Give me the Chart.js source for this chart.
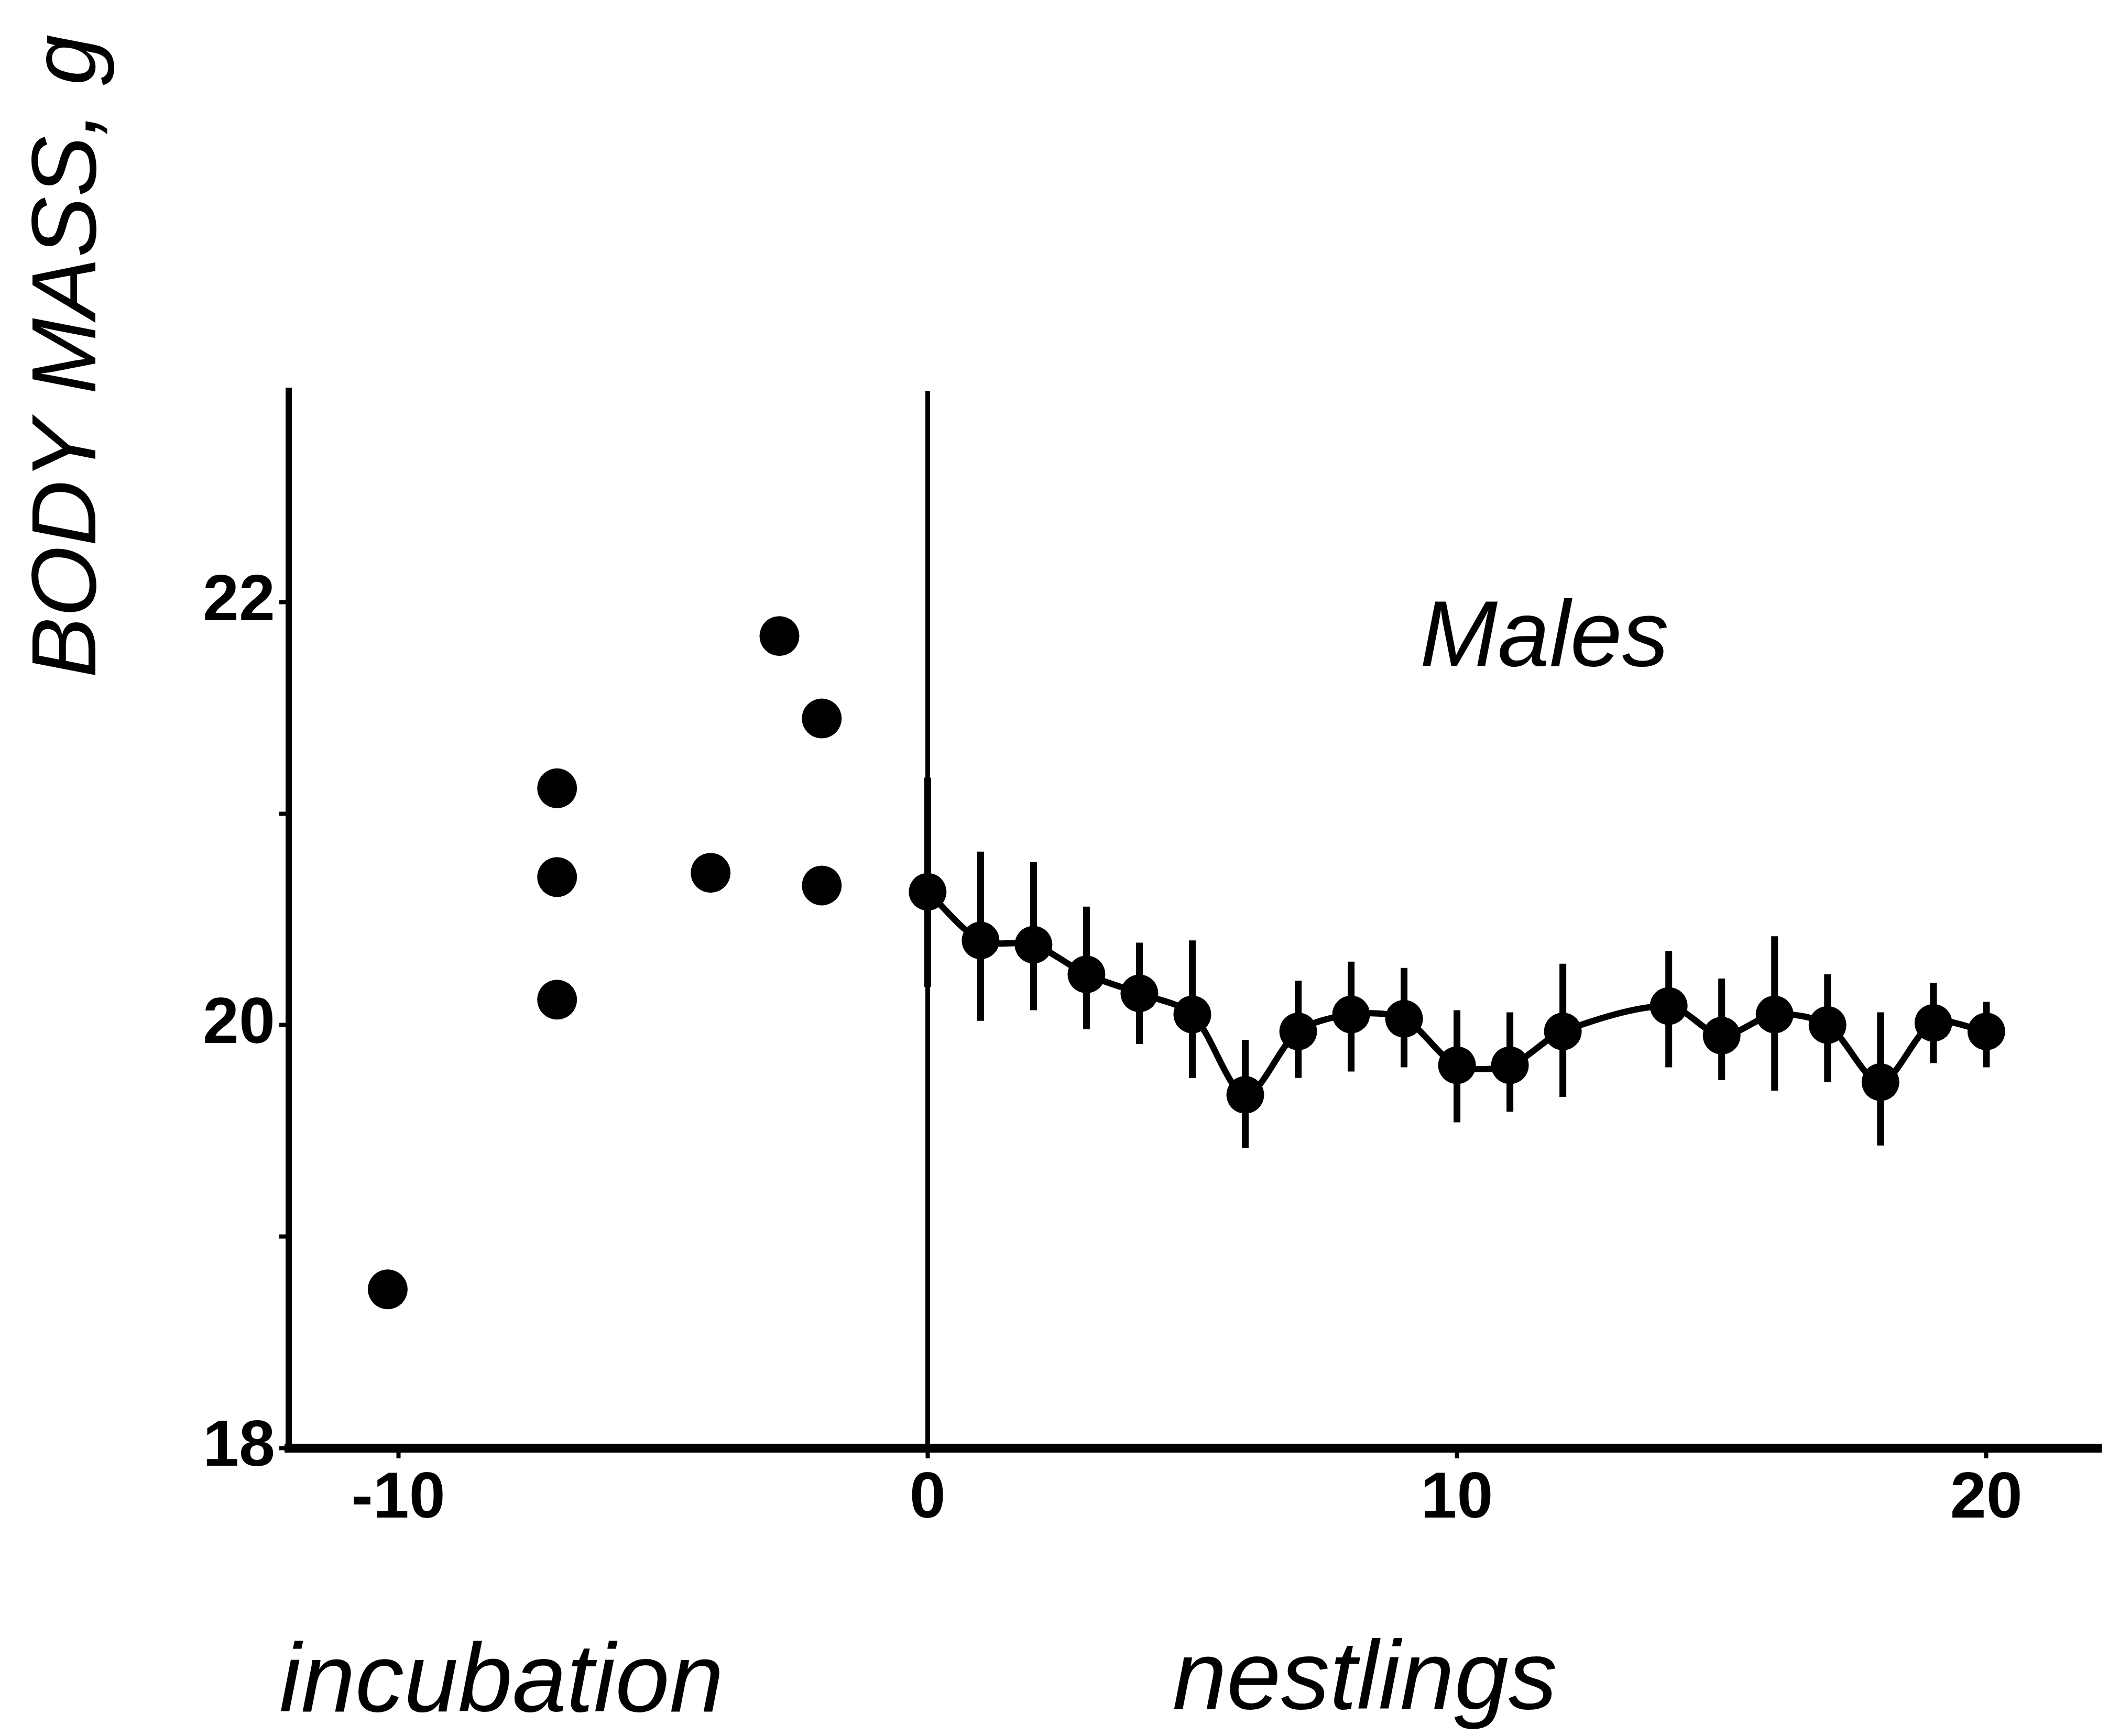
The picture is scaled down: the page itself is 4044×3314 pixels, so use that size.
<!DOCTYPE html>
<html lang="en">
<head>
    <meta charset="UTF-8">
    <script src="https://cdn.jsdelivr.net/npm/chart.js"></script>
    <title>Body mass - Males</title>
    <style>
        body { margin: 0; background: #fff; }
        #wrap { width: 4044px; height: 3314px; position: relative; }
    </style>
</head>
<body>
<div id="wrap"><canvas id="myChart"></canvas></div>
<script>
// tick values
var xTicks = [-10, 0, 10, 20];
var yTicks = [18, 19, 20, 21, 22];
var yLabelled = [18, 20, 22];

// incubation period, single birds
var incubDays = [-10.2, -7, -7, -7, -4.1, -2.8, -2, -2];
var incubMass = [18.75, 21.12, 20.70, 20.12, 20.72, 21.84, 21.45, 20.66];

// nestling period, mean with error bar ends
var nestDays = [0, 1, 2, 3, 4, 5, 6, 7, 8, 9, 10, 11, 12, 14, 15, 16, 17, 18, 19, 20];
var nestMass = [20.63, 20.40, 20.38, 20.24, 20.15, 20.05, 19.67, 19.97, 20.05, 20.03,
                19.81, 19.81, 19.97, 20.09, 19.95, 20.05, 20.00, 19.73, 20.01, 19.97];
var errHigh  = [21.17, 20.82, 20.77, 20.56, 20.39, 20.40, 19.93, 20.21, 20.30, 20.27,
                20.07, 20.06, 20.29, 20.35, 20.22, 20.42, 20.24, 20.06, 20.20, 20.11];
var errLow   = [20.18, 20.02, 20.07, 19.98, 19.91, 19.75, 19.42, 19.75, 19.78, 19.80,
                19.54, 19.59, 19.66, 19.80, 19.74, 19.69, 19.73, 19.43, 19.82, 19.80];

var tickFont = { family: "'Liberation Sans Narrow', 'Liberation Sans', Arial, sans-serif", weight: 'bold', size: 124 };
var textFamily = "'Liberation Sans', Arial, sans-serif";

function pts(xs, ys) {
    return xs.map(function (v, i) { return { x: v, y: ys[i] }; });
}

var extras = {
    id: 'extras',
    beforeDatasetsDraw: function (chart) {
        var ctx = chart.ctx, x = chart.scales.x, y = chart.scales.y;
        ctx.save();
        ctx.strokeStyle = '#000';
        ctx.lineWidth = 13;
        for (var i = 0; i < nestDays.length; i++) {
            var px = x.getPixelForValue(nestDays[i]);
            ctx.beginPath();
            ctx.moveTo(px, y.getPixelForValue(errHigh[i]));
            ctx.lineTo(px, y.getPixelForValue(errLow[i]));
            ctx.stroke();
        }
        ctx.restore();
    },
    afterDraw: function (chart) {
        var ctx = chart.ctx, x = chart.scales.x, y = chart.scales.y;
        var bottom = chart.chartArea.bottom;
        ctx.save();
        ctx.fillStyle = '#000';
        ctx.textAlign = 'center';
        ctx.textBaseline = 'alphabetic';
        ctx.font = 'italic 178px ' + textFamily;
        ctx.fillText('Males', x.getPixelForValue(11.65), y.getPixelForValue(21.70));
        ctx.font = 'italic 186px ' + textFamily;
        ctx.fillText('incubation', x.getPixelForValue(-8.05), bottom + 503);
        ctx.fillText('nestlings', x.getPixelForValue(8.26), bottom + 498);
        // y axis title
        ctx.translate(182, 680);
        ctx.rotate(-Math.PI / 2);
        ctx.font = 'italic 174px ' + textFamily;
        ctx.fillText('BODY MASS, g', 0, 0);
        ctx.restore();
    }
};

var ctx = document.getElementById('myChart').getContext('2d');
var myChart = new Chart(ctx, {
    type: 'scatter',
    data: {
        datasets: [
            {
                label: 'incubation',
                data: pts(incubDays, incubMass),
                showLine: false,
                pointRadius: 38,
                pointBackgroundColor: '#000',
                pointBorderWidth: 0
            },
            {
                label: 'nestlings',
                data: pts(nestDays, nestMass),
                showLine: true,
                borderColor: '#000',
                borderWidth: 12,
                tension: 0.3,
                pointRadius: 36,
                pointBackgroundColor: '#000',
                pointBorderWidth: 0
            }
        ]
    },
    options: {
        responsive: true,
        maintainAspectRatio: false,
        animation: false,
        devicePixelRatio: 1,
        layout: { padding: { top: 746, right: 8, left: 0, bottom: 0 } },
        plugins: {
            legend: { display: false },
            tooltip: { enabled: false }
        },
        scales: {
            x: {
                type: 'linear',
                min: -12.07,
                max: 22.13,
                afterBuildTicks: function (scale) {
                    scale.ticks = xTicks.map(function (v) { return { value: v }; });
                },
                afterFit: function (scale) { scale.height = 550; },
                grid: {
                    display: true,
                    drawOnChartArea: true,
                    drawTicks: true,
                    tickLength: 20,
                    tickColor: '#000',
                    tickWidth: 8,
                    lineWidth: 9,
                    color: function (c) { return c.tick && c.tick.value === 0 ? '#000' : 'rgba(0,0,0,0)'; }
                },
                border: { display: true, color: '#000', width: 17 },
                ticks: {
                    color: '#000',
                    font: tickFont,
                    padding: 4,
                    maxRotation: 0,
                    callback: function (v) { return v; }
                }
            },
            y: {
                min: 18,
                max: 23,
                afterBuildTicks: function (scale) {
                    scale.ticks = yTicks.map(function (v) { return { value: v }; });
                },
                afterFit: function (scale) { scale.width = 551; },
                grid: {
                    display: true,
                    drawOnChartArea: false,
                    drawTicks: true,
                    tickLength: 18,
                    tickColor: '#000',
                    tickWidth: 8
                },
                border: { display: true, color: '#000', width: 12 },
                ticks: {
                    color: '#000',
                    font: tickFont,
                    padding: 8,
                    callback: function (v) { return yLabelled.indexOf(v) >= 0 ? v : ''; }
                }
            }
        }
    },
    plugins: [extras]
});
</script>
</body>
</html>
